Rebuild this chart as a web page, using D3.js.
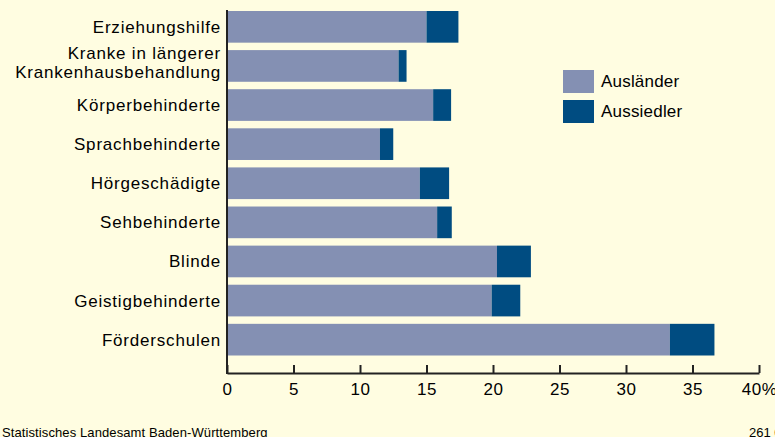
<!DOCTYPE html>
<html>
<head>
<meta charset="utf-8">
<script src="https://cdn.jsdelivr.net/npm/d3@7"></script>
<style>
  body { margin: 0; background: #fffde1; }
  svg { display: block; font-family: "Liberation Sans", Arial, sans-serif; }
</style>
</head>
<body>
<div id="chart"></div>
<script>
// ------------------------------------------------------------
// Data (percent)
// ------------------------------------------------------------
const categories = [
    "Erziehungshilfe",
    "Kranke in längerer|Krankenhausbehandlung",
    "Körperbehinderte",
    "Sprachbehinderte",
    "Hörgeschädigte",
    "Sehbehinderte",
    "Blinde",
    "Geistigbehinderte",
    "Förderschulen"
];
const auslaender = [15.0, 12.9, 15.5, 11.5, 14.5, 15.8, 20.3, 19.9, 33.3];
const aussiedler = [2.4, 0.6, 1.35, 1.0, 2.2, 1.1, 2.55, 2.15, 3.35];
const seriesNames = ["Ausländer", "Aussiedler"];
const colors = ["#8490b3", "#004c81"];
const xTicks = [0, 5, 10, 15, 20, 25, 30, 35, 40];

const width = 775, height = 437;

const svg = d3.select("#chart")
    .append("svg")
    .attr("width", width)
    .attr("height", height);

// Scales
const x = d3.scaleLinear().domain([0, 40]).range([227, 759]);
const y = d3.scaleBand()
    .domain(categories)
    .range([11, 355.5])
    .paddingInner(0.19)
    .paddingOuter(0);

// Stack the two series
const rows = categories.map((c, i) => ({ cat: c, a: auslaender[i], b: aussiedler[i] }));
const stacked = d3.stack().keys(["a", "b"])(rows);

svg.selectAll("g.series")
    .data(stacked)
    .enter()
    .append("g")
    .attr("class", "series")
    .attr("fill", (d, i) => colors[i])
    .selectAll("rect")
    .data(d => d)
    .enter()
    .append("rect")
    .attr("x", d => x(d[0]))
    .attr("y", d => y(d.data.cat))
    .attr("width", d => x(d[1]) - x(d[0]))
    .attr("height", y.bandwidth());

// Category labels (multi-line where needed)
const labels = svg.append("g")
    .selectAll("text")
    .data(categories)
    .enter()
    .append("text")
    .attr("text-anchor", "end")
    .attr("font-size", "17px")
    .attr("letter-spacing", "0.8px")
    .attr("fill", "#000")
    .attr("y", d => y(d) + y.bandwidth() / 2);

labels.each(function (d) {
    const lines = d.split("|");
    const t = d3.select(this);
    lines.forEach((line, k) => {
        t.append("tspan")
            .attr("x", 221)
            .attr("dy", lines.length === 1 ? "0.35em" : (k === 0 ? "-0.38em" : "1.06em"))
            .text(line);
    });
});

// X axis
const xAxis = d3.axisBottom(x)
    .tickValues(xTicks)
    .tickFormat(d => d === 40 ? "40%" : d)
    .tickSizeInner(-8)
    .tickSizeOuter(0)
    .tickPadding(10);

const gx = svg.append("g")
    .attr("transform", "translate(0,373)")
    .call(xAxis);
gx.select(".domain").attr("stroke", "#222").attr("stroke-width", 2);
gx.selectAll(".tick line").attr("stroke", "#222").attr("stroke-width", 2);
gx.selectAll(".tick text")
    .attr("font-size", "17px")
    .attr("letter-spacing", "0.5px")
    .attr("font-family", "Liberation Sans, Arial, sans-serif")
    .attr("fill", "#000");

// Y axis line
svg.append("line")
    .attr("x1", x(0)).attr("x2", x(0))
    .attr("y1", 10).attr("y2", 374)
    .attr("stroke", "#222")
    .attr("stroke-width", 2);

// Legend
const legend = svg.append("g")
    .selectAll("g")
    .data(seriesNames)
    .enter()
    .append("g")
    .attr("transform", (d, i) => "translate(563," + (70 + i * 30) + ")");

legend.append("rect")
    .attr("width", 31)
    .attr("height", 23)
    .attr("fill", (d, i) => colors[i]);

legend.append("text")
    .attr("x", 38)
    .attr("y", 11.5)
    .attr("dy", "0.35em")
    .attr("font-size", "17px")
    .attr("letter-spacing", "0.2px")
    .attr("fill", "#000")
    .text(d => d);

// Footer
svg.append("text")
    .attr("x", 2)
    .attr("y", 437)
    .attr("font-size", "13px")
    .attr("letter-spacing", "0.1px")
    .attr("fill", "#000")
    .text("Statistisches Landesamt Baden-Württemberg");

svg.append("text")
    .attr("x", 749)
    .attr("y", 437)
    .attr("font-size", "13px")
    .attr("fill", "#000")
    .text("261 02");
</script>
</body>
</html>
